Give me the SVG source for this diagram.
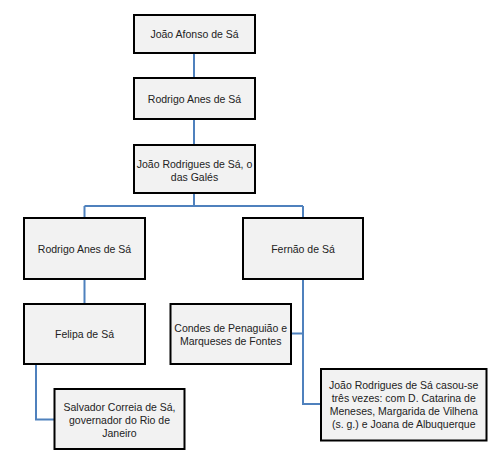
<svg xmlns="http://www.w3.org/2000/svg" width="495" height="463" viewBox="0 0 495 463">
<style>
.box{fill:#f2f2f2;stroke:#000;stroke-width:2}
.c{fill:none;stroke:#4f81bd;stroke-width:2}
text{font-family:"Liberation Sans",Arial,sans-serif;font-size:10.5px;fill:#222;text-anchor:middle}
</style>
<rect width="495" height="463" fill="#fff"/>
<g id="connectors">
<path class="c" d="M194 53V78M194 119V145M194 193V206M84.5 206H303M84.5 206V218M303 206V218M84.5 279V304M303 279V404H321M291 333.5H303M36 364V419.5H54.5"/>
</g>
<g id="n1"><rect class="box" x="134" y="15" width="121" height="38"/><text x="194.5" y="38">João Afonso de Sá</text></g>
<g id="n2"><rect class="box" x="134" y="78" width="121" height="41"/><text x="194.5" y="102.5">Rodrigo Anes de Sá</text></g>
<g id="n3"><rect class="box" x="134" y="145" width="121" height="48"/><text x="194.5" y="167.5">João Rodrigues de Sá, o</text><text x="194.5" y="181">das Galés</text></g>
<g id="n4"><rect class="box" x="24" y="218" width="121" height="61"/><text x="84.5" y="252.5">Rodrigo Anes de Sá</text></g>
<g id="n5"><rect class="box" x="243" y="218" width="120" height="61"/><text x="303" y="252.5">Fernão de Sá</text></g>
<g id="n6"><rect class="box" x="24" y="304" width="121" height="60"/><text x="84.5" y="338">Felipa de Sá</text></g>
<g id="n7"><rect class="box" x="170.5" y="304" width="120.5" height="60"/><text x="230.7" y="331.5">Condes de Penaguião e</text><text x="230.7" y="345">Marqueses de Fontes</text></g>
<g id="n8"><rect class="box" x="321" y="369" width="165.5" height="71.5"/><text x="403.7" y="388.5">João Rodrigues de Sá casou-se</text><text x="403.7" y="401.8">três vezes: com D. Catarina de</text><text x="403.7" y="415.1">Meneses, Margarida de Vilhena</text><text x="403.7" y="428.4">(s. g.) e Joana de Albuquerque</text></g>
<g id="n9"><rect class="box" x="54.5" y="389" width="130" height="60"/><text x="119.5" y="410.8">Salvador Correia de Sá,</text><text x="119.5" y="424">governador do Rio de</text><text x="119.5" y="437.3">Janeiro</text></g>
</svg>
